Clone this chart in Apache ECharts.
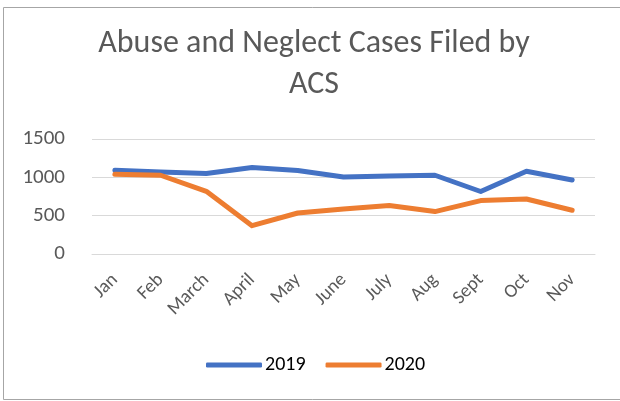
<!DOCTYPE html>
<html><head><meta charset="utf-8">
<script src="https://cdn.jsdelivr.net/npm/echarts@6/dist/echarts.min.js"></script>
<style>html,body{margin:0;padding:0;background:#fff}#c{width:620px;height:401px}</style>
</head><body><div id="c"></div>
<script>
const categories = ['Jan','Feb','March','April','May','June','July','Aug','Sept','Oct','Nov'];
const values2019 = [1093,1070,1050,1128,1090,1005,1018,1027,815,1080,966];
const values2020 = [1040,1027,818,370,535,587,632,553,697,718,570];
const yTicks = [0,500,1000,1500];
const titleText = 'Abuse and Neglect Cases Filed by\nACS';

const chart = echarts.init(document.getElementById('c'), null, {renderer:'canvas'});
const font = 'Carlito, Calibri, "Open Sans", sans-serif';
chart.setOption({
  animation:false,
  backgroundColor:'#fff',
  graphic:[{type:'rect',shape:{x:3.5,y:7.5,width:630,height:392},style:{fill:'none',stroke:'#a6a6a6',lineWidth:1},silent:true,z:-1}],
  title:{text:titleText,left:314,textAlign:'center',top:23,padding:0,textStyle:{fontFamily:font,fontSize:32,fontWeight:'normal',color:'#595959',lineHeight:41}},
  grid:{left:92,right:25,top:139,bottom:147,containLabel:false},
  legend:{bottom:21,left:201,padding:5,itemWidth:56,itemHeight:5,itemGap:20,icon:'roundRect',
    textStyle:{fontFamily:font,fontSize:20,color:'#000',padding:[0,0,0,-2]},
    data:['2019','2020']},
  xAxis:{type:'category',data:categories,boundaryGap:true,
    axisLine:{show:true,lineStyle:{color:'#d9d9d9',width:1}},axisTick:{show:false},
    axisLabel:{rotate:45,interval:0,fontFamily:font,fontSize:19,color:'#595959',margin:23}},
  yAxis:{type:'value',min:yTicks[0],max:yTicks[yTicks.length-1],interval:500,
    axisLine:{show:false},axisTick:{show:false},
    splitLine:{lineStyle:{color:'#d9d9d9',width:1}},
    axisLabel:{fontFamily:font,fontSize:21,color:'#595959',margin:27,formatter:function(v){return String(v);}}},
  series:[
    {name:'2019',type:'line',data:values2019,symbol:'none',lineStyle:{width:5,color:'#4472c4',cap:'round',join:'round'},itemStyle:{color:'#4472c4'}},
    {name:'2020',type:'line',data:values2020,symbol:'none',lineStyle:{width:5,color:'#ed7d31',cap:'round',join:'round'},itemStyle:{color:'#ed7d31'}}
  ]
});
</script></body></html>
